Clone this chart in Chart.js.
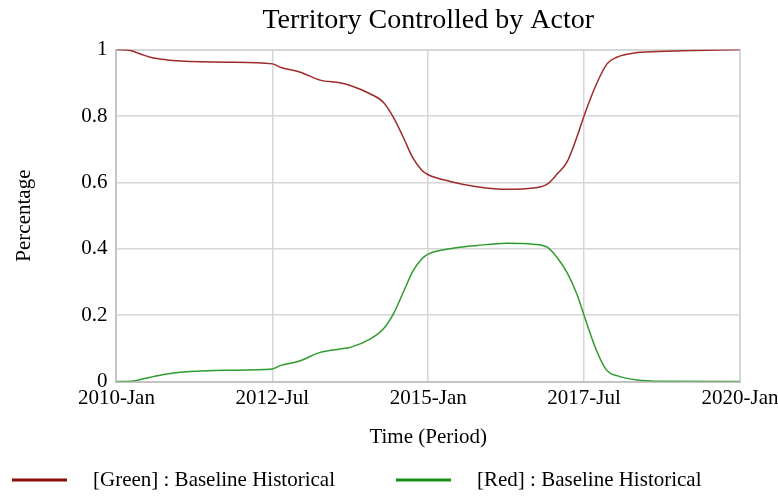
<!DOCTYPE html>
<html>
<head>
<meta charset="utf-8">
<script src="https://cdn.jsdelivr.net/npm/chart.js@4.4.0/dist/chart.umd.min.js"></script>
<style>
  body { margin: 0; background: #fff; }
</style>
</head>
<body>
<canvas id="territoryChart" width="778" height="496"></canvas>
<script>
// months since 2010-Jan
const months = [0, 2.7, 4.6, 6.5, 9.7, 12.3, 21.3, 30, 31.5, 35.4, 39.2, 43, 45, 48.8, 51.4, 53.3, 55.2, 57.1, 58.8, 60,
  64.2, 69.4, 75.2, 80.2, 82.9, 84.8, 86.7, 88.6, 90, 92.4, 94.4, 96.3, 100.2, 105.9, 120];
const greenShare = [1.0, 0.997, 0.987, 0.977, 0.969, 0.966, 0.962, 0.957, 0.947, 0.932, 0.908, 0.900, 0.892, 0.867, 0.841, 0.796, 0.736, 0.672, 0.636, 0.623,
  0.603, 0.587, 0.579, 0.583, 0.595, 0.625, 0.661, 0.736, 0.801, 0.897, 0.957, 0.977, 0.991, 0.995, 1.0];
const redShare = [0, 0.001, 0.006, 0.013, 0.023, 0.028, 0.034, 0.038, 0.048, 0.063, 0.088, 0.098, 0.103, 0.128, 0.159, 0.204, 0.269, 0.334, 0.370, 0.384,
  0.400, 0.410, 0.417, 0.414, 0.405, 0.374, 0.329, 0.264, 0.199, 0.093, 0.033, 0.018, 0.005, 0.001, 0];
const xTickLabels = ['2010-Jan', '2012-Jul', '2015-Jan', '2017-Jul', '2020-Jan'];
const seriesNames = ['[Green] : Baseline Historical', '[Red] : Baseline Historical'];

const serif = '"Liberation Serif", "Times New Roman", serif';

function toPoints(values) {
  return months.map((m, i) => ({ x: m, y: values[i] }));
}

// legend drawn under the chart, long line swatch then the label
const bottomLegend = {
  id: 'bottomLegend',
  afterDraw(chart) {
    const ctx = chart.ctx;
    const slots = [{ lineX: 12, textX: 93 }, { lineX: 396, textX: 477 }];
    const y = 480;
    ctx.save();
    ctx.font = '21px ' + serif;
    ctx.textBaseline = 'middle';
    chart.data.datasets.forEach((ds, i) => {
      const s = slots[i];
      ctx.strokeStyle = ds.legendColor;
      ctx.lineWidth = 3;
      ctx.beginPath();
      ctx.moveTo(s.lineX, y);
      ctx.lineTo(s.lineX + 55, y);
      ctx.stroke();
      ctx.fillStyle = '#000';
      ctx.fillText(ds.label, s.textX, y);
    });
    ctx.restore();
  }
};

const edgeWidth = ctx => (ctx.index === 0 || ctx.tick.value === 1 || ctx.tick.value === 120) ? 2 : 1.5;

new Chart(document.getElementById('territoryChart'), {
  type: 'line',
  data: {
    datasets: [
      {
        label: seriesNames[0],
        data: toPoints(greenShare),
        borderColor: '#9e2a2a',
        legendColor: '#8b0a0a',
        borderWidth: 1.5,
        pointRadius: 0,
        cubicInterpolationMode: 'monotone'
      },
      {
        label: seriesNames[1],
        data: toPoints(redShare),
        borderColor: '#2f9a2f',
        legendColor: '#139013',
        borderWidth: 1.5,
        pointRadius: 0,
        cubicInterpolationMode: 'monotone'
      }
    ]
  },
  options: {
    responsive: false,
    animation: false,
    layout: { padding: { left: 0, right: 0, top: 0, bottom: 44 } },
    plugins: {
      legend: { display: false },
      tooltip: { enabled: false },
      title: {
        display: true,
        text: 'Territory Controlled by Actor',
        fullSize: false,
        color: '#000',
        font: { family: serif, size: 28, weight: 'normal' },
        padding: { top: 4, bottom: 12 }
      }
    },
    scales: {
      x: {
        type: 'linear',
        min: 0,
        max: 120,
        // the last label is allowed to run off the right edge, like the original
        afterFit: axis => { axis.paddingRight = 38; },
        ticks: {
          stepSize: 30,
          maxRotation: 0,
          padding: 4,
          color: '#000',
          font: { family: serif, size: 21 },
          callback: value => xTickLabels[value / 30]
        },
        grid: { color: '#d6d6d6', lineWidth: edgeWidth, drawTicks: false },
        border: { color: '#c4c4c4', width: 2 },
        title: {
          display: true,
          text: 'Time (Period)',
          color: '#000',
          font: { family: serif, size: 21 },
          padding: { top: 10, bottom: 2 }
        }
      },
      y: {
        min: 0,
        max: 1,
        ticks: {
          stepSize: 0.2,
          padding: 9,
          color: '#000',
          font: { family: serif, size: 21 },
          callback: value => Math.round(value * 10) / 10
        },
        grid: { color: '#d6d6d6', lineWidth: edgeWidth, drawTicks: false },
        border: { color: '#c4c4c4', width: 2 },
        title: {
          display: true,
          text: 'Percentage',
          color: '#000',
          font: { family: serif, size: 21 },
          padding: { top: 12, bottom: 35 }
        }
      }
    }
  },
  plugins: [bottomLegend]
});
</script>
</body>
</html>
